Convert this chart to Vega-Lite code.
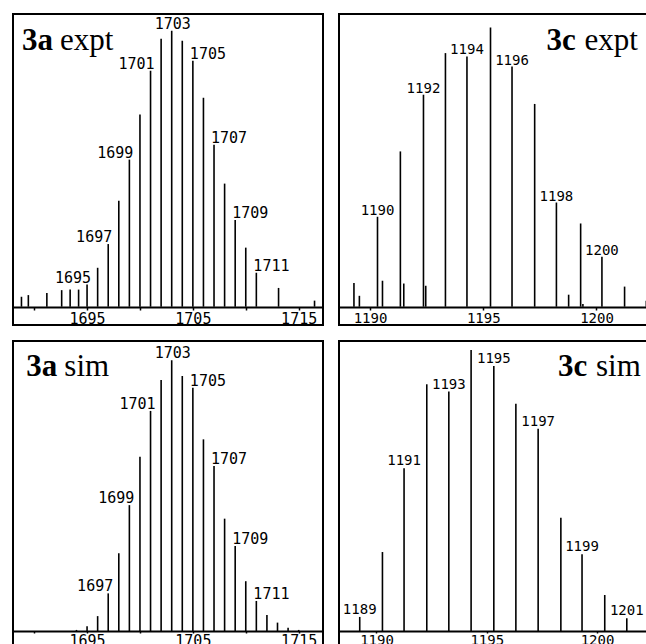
{
  "$schema": "https://vega.github.io/schema/vega-lite/v6.json",
  "background": "white",
  "padding": {"left": 12, "top": 13, "right": 0, "bottom": 0},
  "columns": 2,
  "spacing": {"row": 13, "column": 14},
  "config": {
    "view": {"stroke": "black", "strokeWidth": 2},
    "axis": {"domainColor": "black", "domainWidth": 2, "tickColor": "black", "tickWidth": 1.5, "tickSize": 3, "labelFont": "DejaVu Sans Mono", "labelFontSize": 15, "labelColor": "black", "labelPadding": 1, "grid": false, "title": null, "labelOverlap": false, "labelFlush": false, "format": "d"},
    "text": {"color": "black"}
  },
  "datasets": {
    "a_expt": [
      {"mz": 1688.8, "v": 3.6}, {"mz": 1689.45, "v": 4.2}, {"mz": 1691.2, "v": 5.0}, {"mz": 1692.6, "v": 6.0}, {"mz": 1693.4, "v": 6.2}, {"mz": 1694.2, "v": 6.2},
      {"mz": 1695, "v": 8.0, "label": "1695", "side": "L"}, {"mz": 1696, "v": 14.1}, {"mz": 1697, "v": 22.7, "label": "1697", "side": "L"}, {"mz": 1698, "v": 38.4},
      {"mz": 1699, "v": 53.3, "label": "1699", "side": "L"}, {"mz": 1700, "v": 69.6}, {"mz": 1701, "v": 85.5, "label": "1701", "side": "L"}, {"mz": 1702, "v": 97.1},
      {"mz": 1703, "v": 100, "label": "1703", "side": "C"}, {"mz": 1704, "v": 96.4}, {"mz": 1705, "v": 89.1, "label": "1705", "side": "R"}, {"mz": 1706, "v": 75.7},
      {"mz": 1707, "v": 58.7, "label": "1707", "side": "R"}, {"mz": 1708, "v": 44.6}, {"mz": 1709, "v": 31.4, "label": "1709", "side": "R"}, {"mz": 1710, "v": 21.4},
      {"mz": 1711, "v": 12.3, "label": "1711", "side": "R"}, {"mz": 1713.1, "v": 6.8}, {"mz": 1716.5, "v": 2.2}
    ],
    "c_expt": [
      {"mz": 1189.29, "v": 8.5}, {"mz": 1189.53, "v": 3.9}, {"mz": 1190.33, "v": 32.2, "label": "1190", "side": "C"}, {"mz": 1190.55, "v": 9.3},
      {"mz": 1191.34, "v": 55.6}, {"mz": 1191.49, "v": 8.3}, {"mz": 1192.36, "v": 75.9, "label": "1192", "side": "C"}, {"mz": 1192.46, "v": 7.5},
      {"mz": 1193.33, "v": 90.8}, {"mz": 1194.28, "v": 89.6, "label": "1194", "side": "C"}, {"mz": 1195.32, "v": 100}, {"mz": 1196.27, "v": 86.0, "label": "1196", "side": "C"},
      {"mz": 1197.27, "v": 72.6}, {"mz": 1198.23, "v": 37.3, "label": "1198", "side": "C"}, {"mz": 1198.77, "v": 4.3}, {"mz": 1199.3, "v": 29.8},
      {"mz": 1199.4, "v": 1.0}, {"mz": 1200.24, "v": 17.9, "label": "1200", "side": "C"}, {"mz": 1201.24, "v": 7.2}, {"mz": 1202.2, "v": 2.1}
    ],
    "a_sim": [
      {"mz": 1694, "v": 0.4}, {"mz": 1695, "v": 1.8}, {"mz": 1696, "v": 5.5}, {"mz": 1697, "v": 13.9, "label": "1697", "side": "L"}, {"mz": 1698, "v": 28.7},
      {"mz": 1699, "v": 46.5, "label": "1699", "side": "L"}, {"mz": 1700, "v": 64.4}, {"mz": 1701, "v": 81.3, "label": "1701", "side": "L"}, {"mz": 1702, "v": 92.7},
      {"mz": 1703, "v": 100, "label": "1703", "side": "C"}, {"mz": 1704, "v": 94.2}, {"mz": 1705, "v": 89.9, "label": "1705", "side": "R"}, {"mz": 1706, "v": 70.8},
      {"mz": 1707, "v": 61.0, "label": "1707", "side": "R"}, {"mz": 1708, "v": 41.5}, {"mz": 1709, "v": 31.4, "label": "1709", "side": "R"}, {"mz": 1710, "v": 18.4},
      {"mz": 1711, "v": 11.1, "label": "1711", "side": "R"}, {"mz": 1712, "v": 5.9}, {"mz": 1713, "v": 3.1}, {"mz": 1714, "v": 1.2}, {"mz": 1715, "v": 0.4}
    ],
    "c_sim": [
      {"mz": 1189.24, "v": 5.0, "label": "1189", "side": "C"}, {"mz": 1190.27, "v": 28.1}, {"mz": 1191.25, "v": 57.9, "label": "1191", "side": "C"},
      {"mz": 1192.28, "v": 87.8}, {"mz": 1193.28, "v": 85.2, "label": "1193", "side": "C"}, {"mz": 1194.29, "v": 100}, {"mz": 1195.32, "v": 94.3, "label": "1195", "side": "C"},
      {"mz": 1196.32, "v": 80.9}, {"mz": 1197.33, "v": 72.0, "label": "1197", "side": "C"}, {"mz": 1198.36, "v": 40.3}, {"mz": 1199.32, "v": 27.3, "label": "1199", "side": "C"},
      {"mz": 1200.35, "v": 12.8}, {"mz": 1201.35, "v": 4.5, "label": "1201", "side": "C"}
    ]
  },
  "concat": [
    {
      "width": 310, "height": 311,
      "layer": [
        {"data": {"name": "a_expt"}, "mark": {"type": "rule", "color": "black", "strokeWidth": 1.6},
         "encoding": {
           "x": {"field": "mz", "type": "quantitative", "scale": {"domain": [1688, 1717.3], "nice": false, "zero": false}, "axis": {"values": [1690, 1695, 1700, 1705, 1710, 1715], "labelExpr": "datum.value % 10 == 5 ? datum.label : ''", "offset": -18, "labelOverlap": false}},
           "y": {"field": "v", "type": "quantitative", "scale": {"domain": [-6.63, 106.05], "nice": false, "zero": false}, "axis": null},
           "y2": {"datum": 0}}},
        {"data": {"name": "a_expt"}, "transform": [{"filter": "datum.side == 'L'"}], "mark": {"type": "text", "align": "right", "baseline": "alphabetic", "dx": 4, "dy": -2, "font": "DejaVu Sans Mono", "fontSize": 15},
         "encoding": {"x": {"field": "mz", "type": "quantitative"}, "y": {"field": "v", "type": "quantitative"}, "text": {"field": "label"}}},
        {"data": {"name": "a_expt"}, "transform": [{"filter": "datum.side == 'R'"}], "mark": {"type": "text", "align": "left", "baseline": "alphabetic", "dx": -3, "dy": -2, "font": "DejaVu Sans Mono", "fontSize": 15},
         "encoding": {"x": {"field": "mz", "type": "quantitative"}, "y": {"field": "v", "type": "quantitative"}, "text": {"field": "label"}}},
        {"data": {"name": "a_expt"}, "transform": [{"filter": "datum.side == 'C'"}], "mark": {"type": "text", "align": "center", "baseline": "alphabetic", "dx": 1, "dy": -2, "font": "DejaVu Sans Mono", "fontSize": 15},
         "encoding": {"x": {"field": "mz", "type": "quantitative"}, "y": {"field": "v", "type": "quantitative"}, "text": {"field": "label"}}},
        {"data": {"values": [{"x": 1688.85, "y": 93.1, "bold": "3a", "rest": "expt"}]}, "mark": {"type": "text", "align": "left", "baseline": "alphabetic", "font": "Liberation Serif", "fontSize": 31, "fontWeight": "bold"},
         "encoding": {"x": {"field": "x", "type": "quantitative"}, "y": {"field": "y", "type": "quantitative"}, "text": {"field": "bold"}}},
        {"data": {"values": [{"x": 1688.85, "y": 93.1, "bold": "3a", "rest": "expt"}]}, "mark": {"type": "text", "align": "left", "baseline": "alphabetic", "dx": 38, "font": "Liberation Serif", "fontSize": 31},
         "encoding": {"x": {"field": "x", "type": "quantitative"}, "y": {"field": "y", "type": "quantitative"}, "text": {"field": "rest"}}}
      ]
    },
    {
      "width": 320, "height": 311,
      "layer": [
        {"data": {"name": "c_expt"}, "mark": {"type": "rule", "color": "black", "strokeWidth": 1.6},
         "encoding": {
           "x": {"field": "mz", "type": "quantitative", "scale": {"domain": [1188.63, 1202.76], "nice": false, "zero": false}, "axis": {"values": [1190, 1195, 1200], "offset": -18, "labelFontSize": 14, "labelOverlap": false}},
           "y": {"field": "v", "type": "quantitative", "scale": {"domain": [-6.55, 104.8], "nice": false, "zero": false}, "axis": null},
           "y2": {"datum": 0}}},
        {"data": {"name": "c_expt"}, "transform": [{"filter": "datum.side == 'C'"}], "mark": {"type": "text", "align": "center", "baseline": "alphabetic", "dy": -2, "font": "DejaVu Sans Mono", "fontSize": 14},
         "encoding": {"x": {"field": "mz", "type": "quantitative"}, "y": {"field": "v", "type": "quantitative"}, "text": {"field": "label"}}},
        {"data": {"values": [{"x": 1197.79, "y": 91.9, "bold": "3c", "rest": "expt"}]}, "mark": {"type": "text", "align": "left", "baseline": "alphabetic", "font": "Liberation Serif", "fontSize": 31, "fontWeight": "bold"},
         "encoding": {"x": {"field": "x", "type": "quantitative"}, "y": {"field": "y", "type": "quantitative"}, "text": {"field": "bold"}}},
        {"data": {"values": [{"x": 1197.79, "y": 91.9, "bold": "3c", "rest": "expt"}]}, "mark": {"type": "text", "align": "left", "baseline": "alphabetic", "dx": 38, "font": "Liberation Serif", "fontSize": 31},
         "encoding": {"x": {"field": "x", "type": "quantitative"}, "y": {"field": "y", "type": "quantitative"}, "text": {"field": "rest"}}}
      ]
    },
    {
      "width": 310, "height": 320,
      "layer": [
        {"data": {"name": "a_sim"}, "mark": {"type": "rule", "color": "black", "strokeWidth": 1.6},
         "encoding": {
           "x": {"field": "mz", "type": "quantitative", "scale": {"domain": [1688, 1717.3], "nice": false, "zero": false}, "axis": {"values": [1690, 1695, 1700, 1705, 1710, 1715], "labelExpr": "datum.value % 10 == 5 ? datum.label : ''", "offset": -30, "labelOverlap": false, "labelPadding": 0, "tickSize": 2}},
           "y": {"field": "v", "type": "quantitative", "scale": {"domain": [-11.08, 107.13], "nice": false, "zero": false}, "axis": null},
           "y2": {"datum": 0}}},
        {"data": {"name": "a_sim"}, "transform": [{"filter": "datum.side == 'L'"}], "mark": {"type": "text", "align": "right", "baseline": "alphabetic", "dx": 5, "dy": -2, "font": "DejaVu Sans Mono", "fontSize": 15},
         "encoding": {"x": {"field": "mz", "type": "quantitative"}, "y": {"field": "v", "type": "quantitative"}, "text": {"field": "label"}}},
        {"data": {"name": "a_sim"}, "transform": [{"filter": "datum.side == 'R'"}], "mark": {"type": "text", "align": "left", "baseline": "alphabetic", "dx": -3, "dy": -2, "font": "DejaVu Sans Mono", "fontSize": 15},
         "encoding": {"x": {"field": "mz", "type": "quantitative"}, "y": {"field": "v", "type": "quantitative"}, "text": {"field": "label"}}},
        {"data": {"name": "a_sim"}, "transform": [{"filter": "datum.side == 'C'"}], "mark": {"type": "text", "align": "center", "baseline": "alphabetic", "dx": 1, "dy": -2, "font": "DejaVu Sans Mono", "fontSize": 15},
         "encoding": {"x": {"field": "mz", "type": "quantitative"}, "y": {"field": "v", "type": "quantitative"}, "text": {"field": "label"}}},
        {"data": {"values": [{"x": 1689.26, "y": 94.2, "bold": "3a", "rest": "sim"}]}, "mark": {"type": "text", "align": "left", "baseline": "alphabetic", "font": "Liberation Serif", "fontSize": 31, "fontWeight": "bold"},
         "encoding": {"x": {"field": "x", "type": "quantitative"}, "y": {"field": "y", "type": "quantitative"}, "text": {"field": "bold"}}},
        {"data": {"values": [{"x": 1689.26, "y": 94.2, "bold": "3a", "rest": "sim"}]}, "mark": {"type": "text", "align": "left", "baseline": "alphabetic", "dx": 38, "font": "Liberation Serif", "fontSize": 31},
         "encoding": {"x": {"field": "x", "type": "quantitative"}, "y": {"field": "y", "type": "quantitative"}, "text": {"field": "rest"}}}
      ]
    },
    {
      "width": 320, "height": 320,
      "layer": [
        {"data": {"name": "c_sim"}, "mark": {"type": "rule", "color": "black", "strokeWidth": 1.6},
         "encoding": {
           "x": {"field": "mz", "type": "quantitative", "scale": {"domain": [1188.3, 1202.81], "nice": false, "zero": false}, "axis": {"values": [1190, 1195, 1200], "offset": -30, "labelFontSize": 14, "labelOverlap": false, "labelPadding": 0, "tickSize": 2}},
           "y": {"field": "v", "type": "quantitative", "scale": {"domain": [-10.68, 103.2], "nice": false, "zero": false}, "axis": null},
           "y2": {"datum": 0}}},
        {"data": {"name": "c_sim"}, "transform": [{"filter": "datum.side == 'C'"}], "mark": {"type": "text", "align": "center", "baseline": "alphabetic", "dy": -3, "font": "DejaVu Sans Mono", "fontSize": 14},
         "encoding": {"x": {"field": "mz", "type": "quantitative"}, "y": {"field": "v", "type": "quantitative"}, "text": {"field": "label"}}},
        {"data": {"values": [{"x": 1198.23, "y": 90.7, "bold": "3c", "rest": "sim"}]}, "mark": {"type": "text", "align": "left", "baseline": "alphabetic", "font": "Liberation Serif", "fontSize": 31, "fontWeight": "bold"},
         "encoding": {"x": {"field": "x", "type": "quantitative"}, "y": {"field": "y", "type": "quantitative"}, "text": {"field": "bold"}}},
        {"data": {"values": [{"x": 1198.23, "y": 90.7, "bold": "3c", "rest": "sim"}]}, "mark": {"type": "text", "align": "left", "baseline": "alphabetic", "dx": 38, "font": "Liberation Serif", "fontSize": 31},
         "encoding": {"x": {"field": "x", "type": "quantitative"}, "y": {"field": "y", "type": "quantitative"}, "text": {"field": "rest"}}}
      ]
    }
  ]
}
